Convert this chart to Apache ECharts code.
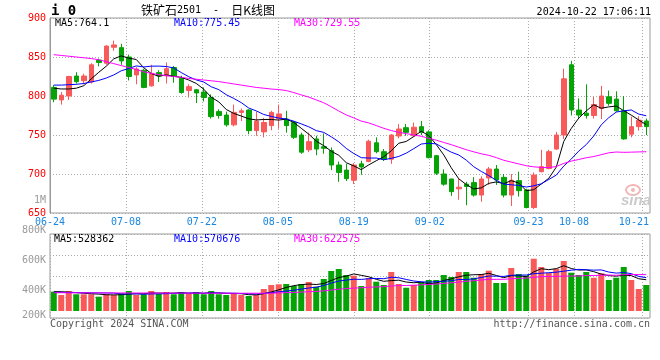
<!DOCTYPE html>
<html><head><meta charset="utf-8">
<script src="https://cdn.jsdelivr.net/npm/echarts@6/dist/echarts.min.js"></script>
<style>html,body{margin:0;padding:0;background:#fff}#c{width:660px;height:360px}</style>
</head><body><div id="c"></div>
<script>
// ---- data ----
const dates = [
 '06-24','06-25','06-26','06-27','06-28',
 '07-01','07-02','07-03','07-04','07-05','07-08','07-09','07-10','07-11','07-12',
 '07-15','07-16','07-17','07-18','07-19','07-22','07-23','07-24','07-25','07-26',
 '07-29','07-30','07-31','08-01','08-02','08-05','08-06','08-07','08-08','08-09',
 '08-12','08-13','08-14','08-15','08-16','08-19','08-20','08-21','08-22','08-23',
 '08-26','08-27','08-28','08-29','08-30','09-02','09-03','09-04','09-05','09-06',
 '09-09','09-10','09-11','09-12','09-13','09-18','09-19','09-20','09-23','09-24',
 '09-25','09-26','09-27','09-30','10-08','10-09','10-10','10-11','10-14','10-15',
 '10-16','10-17','10-18','10-21','10-22'];
const opens = [811,795,800,825.6,819.6,818,846,842,862.5,862,850,827,833,813,830,826,836.5,822.6,807,808,
 805,798,780,775.6,763,779,782,755.6,754,762,771,770.5,766,750,731,745,735,730,711.5,705,
 692,713,716,740,728.6,719,748.7,759.4,749,760.7,754,723.5,700,693.6,681,687,689,673,695,706.4,
 695.7,673,691.5,679.5,657,703,707,732,750,840,782,778,775,784,799,796,781,751,760.7,768];
const closes = [796,801,825,818.3,825.6,840,843,864,865.5,845,825,834.6,811,829,826,835,825,804.5,812,804,
 798,773.5,775,763,779,781,755.6,768,766,779,777,762,747,728,741.5,732,733,711.5,702,694,
 711.5,709,742,728.6,719,750,757.7,753.4,760,753.4,721,701,687,677.4,683,684,673,693.6,706.4,692.3,
 673,692,678.6,657,698.7,709.4,728.6,750,822,782,775.6,775,789,800,790.6,781,745,760.7,769,760.7];
const lows = [792,789,795,816,815,816,838,840,858,840,820,815,810,812,818,816,817,803,798,791,
 793,771,771,760.7,761,768,751,749,747,756,758,753,745,726,728,724,726,705,690,691,
 687,699,715,726.5,716.7,713,745.7,749,748,750,720,698.7,685,672,667,660,671,664.5,686,686,
 670,659,671,656,655,702,706,731,745,775,770.5,771,771,770.5,787.6,780,744,747,755.6,750];
const highs = [814,805,826,830.5,828.5,842,848,865,871,867,853,837,835,840,833,843,838.5,826,815,809,
 811,802,783,780,789,784,783,780,772,781,789,781,768,753,753,749,752,734,716,713,
 714,717,744,747,732,751,764,764,766,768,756,724.4,706,694,694,690,696,697,709,711.5,
 700,700,703,681,702,731,731,754,835,845,797,815,799,813,807,806,800,773.5,774,771];
const volumes = [330000,274000,342000,286000,286000,286000,245000,286000,274000,303000,
 342000,274000,286000,342000,291000,325000,286000,325000,291000,325000,
 286000,342000,286000,274000,303000,274000,257000,274000,376000,445000,
 457000,462000,428000,462000,496000,416000,547000,684000,718000,616000,
 604000,428000,559000,501000,445000,667000,462000,398000,445000,491000,
 530000,530000,616000,581000,667000,667000,569000,633000,689000,479000,
 479000,735000,633000,604000,894000,752000,650000,723000,855000,655000,
 616000,667000,569000,645000,530000,569000,752000,530000,376000,445000];
// moving-average values before enough history exists
const ma5Head = [810,809,809,810];
const ma10Head = [814,814,814.5,815,816,818,820,823,827];
const ma30Head = [853,852,851,850,849,848,846.5,844,841.5,839,836.5,834,831,829,827.5,826,825,824,822.5,821.5,
 820.5,819.5,818.5,817,815.5,814,812.5,811,810];
const volMa5Head = [330000,330000,322000,315000];
const volMa10Head = [318000,318000,316000,315000,313000,312000,310000,308000,306000];
const volMa30Head = [312000,312000,311000,311000,310000,310000,310000,309000,309000,309000,
 308000,308000,308000,307000,307000,307000,306000,306000,306000,306000,
 305000,305000,305000,305000,304000,304000,304000,304000,304000];
const labelDates = ['06-24','07-08','07-22','08-05','08-19','09-02','09-23','10-08','10-21'];
const priceMin = 650, priceMax = 900, priceStep = 50;
const volLabelMin = 200000, volLabelMax = 1000000, volLabelStep = 200000;
const titleParts = [['c','铁矿石'],['m','2501  -  '],['c','日K线图']];
const headerCode = 'i 0';
const headerTime = '2024-10-22 17:06:11';
const priceMaText = ['MA5:764.1','MA10:775.45','MA30:729.55'];
const volMaText = ['MA5:528362','MA10:570676','MA30:622575'];

// ---- chart ----
const MONO = '"DejaVu Sans Mono","Liberation Mono",monospace';
const RED = '#f85a5a', GREEN = '#05a305';
const GRIDC = '#ababab', BORDER = '#9a9a9a';
const MAC = ['#000000','#0000ff','#ff00ff'];

function sma(vals, n, head){
  return vals.map((v,i)=>{
    if(i < n-1) return head[i];
    let s=0; for(let k=i-n+1;k<=i;k++) s+=vals[k];
    return +(s/n).toFixed(2);
  });
}
const isUp = i => closes[i] >= opens[i];
const candleData = dates.map((d,i)=>[opens[i],closes[i],lows[i],highs[i]]);
const volData = volumes.map((v,i)=>({value:v,itemStyle:{color:isUp(i)?RED:GREEN}}));
const labelInterval = (idx,val)=> labelDates.indexOf(val) >= 0;
const lastLabel = labelDates[labelDates.length-1];
const dotted = {color:GRIDC, type:[1,2], width:1};

const chart = echarts.init(document.getElementById('c'), null, {renderer:'canvas'});
const volPx = 17100; // volume per pixel
function txt(x,y,text,font,fill,align){
  return {type:'text',x:x,y:y,style:{text:text,font:font,fill:fill,align:align,verticalAlign:'middle',textAlign:align,textVerticalAlign:'middle'}};
}
const option = {
  animation:false,
  backgroundColor:'#fff',
  grid:[
    {left:50,right:10,top:18,height:195,show:true,borderColor:BORDER,borderWidth:1},
    {left:50,right:10,top:234,height:84,show:true,borderColor:BORDER,borderWidth:1},
    {left:50,right:10,top:200.3,height:120.4,show:false}
  ],
  xAxis:[
    {type:'category',gridIndex:0,data:dates,boundaryGap:true,show:false,position:'top'},
    {type:'category',gridIndex:0,data:dates,boundaryGap:false,position:'bottom',
      axisLine:{show:false},axisTick:{show:false},
      axisLabel:{interval:labelInterval,color:'#1a86e0',fontFamily:MONO,fontSize:10,margin:4,
        hideOverlap:false,
        formatter:v=> v===lastLabel ? '{r|'+v+'}' : v,
        rich:{r:{color:'#1a86e0',fontFamily:MONO,fontSize:10,padding:[0,17,0,0]}}},
      splitLine:{show:true,interval:labelInterval,lineStyle:dotted}},
    {type:'category',gridIndex:1,data:dates,boundaryGap:true,show:false,position:'top'},
    {type:'category',gridIndex:1,data:dates,boundaryGap:false,position:'bottom',
      axisLine:{show:false},axisTick:{show:false},axisLabel:{show:false},
      splitLine:{show:true,interval:labelInterval,lineStyle:dotted}},
    {type:'category',gridIndex:2,data:dates,show:false}
  ],
  yAxis:[
    {type:'value',gridIndex:0,min:priceMin,max:priceMax,interval:priceStep,
      axisLine:{show:true,lineStyle:{color:BORDER}},axisTick:{show:false},
      axisLabel:{color:'#ff0000',fontFamily:MONO,fontSize:10,margin:4},
      splitLine:{show:true,lineStyle:dotted}},
    {type:'value',gridIndex:1,min:-7*volPx,max:77*volPx,show:false,splitLine:{show:false}},
    {type:'value',gridIndex:1,min:0,max:4,interval:1,position:'left',
      axisLine:{show:false},axisTick:{show:false},axisLabel:{show:false},
      splitLine:{show:true,lineStyle:dotted}},
    {type:'value',gridIndex:2,min:volLabelMin,max:volLabelMax,interval:volLabelStep,position:'left',
      axisLine:{show:false},axisTick:{show:false},splitLine:{show:false},
      axisLabel:{color:'#9a9a9a',fontFamily:MONO,fontSize:10,margin:4,verticalAlignMinLabel:'bottom',
        formatter:v=> v>=1e6 ? (v/1e6)+'M' : (v/1000)+'K'}}
  ],
  series:[
    {type:'candlestick',xAxisIndex:0,yAxisIndex:0,data:candleData,barWidth:5,
      itemStyle:{color:RED,color0:GREEN,borderColor:RED,borderColor0:GREEN,borderWidth:1}},
    {type:'line',xAxisIndex:0,yAxisIndex:0,data:sma(closes,5,ma5Head),symbol:'none',lineStyle:{color:MAC[0],width:1},z:5},
    {type:'line',xAxisIndex:0,yAxisIndex:0,data:sma(closes,10,ma10Head),symbol:'none',lineStyle:{color:MAC[1],width:1},z:5},
    {type:'line',xAxisIndex:0,yAxisIndex:0,data:sma(closes,30,ma30Head),symbol:'none',lineStyle:{color:MAC[2],width:1},z:5},
    {type:'bar',xAxisIndex:2,yAxisIndex:1,data:volData,barWidth:6},
    {type:'line',xAxisIndex:2,yAxisIndex:1,data:sma(volumes,5,volMa5Head),symbol:'none',lineStyle:{color:MAC[0],width:1},z:5},
    {type:'line',xAxisIndex:2,yAxisIndex:1,data:sma(volumes,10,volMa10Head),symbol:'none',lineStyle:{color:MAC[1],width:1},z:5},
    {type:'line',xAxisIndex:2,yAxisIndex:1,data:sma(volumes,30,volMa30Head),symbol:'none',lineStyle:{color:MAC[2],width:1},z:5}
  ],
  graphic:[
    txt(51,11,headerCode,'bold 14px '+MONO,'#000','left'),
    {type:'text',x:141,y:10,style:{
      text:titleParts.map(p=>'{'+p[0]+'|'+p[1]+'}').join(''),
      rich:{c:{font:'12px "Noto Sans CJK SC",sans-serif',fill:'#000'},m:{font:'10px '+MONO,fill:'#000'}},
      fill:'#000',align:'left',verticalAlign:'middle',textAlign:'left',textVerticalAlign:'middle'}},
    txt(651,12,headerTime,'10px '+MONO,'#000','right'),
    txt(55,23.5,priceMaText[0],'10px '+MONO,MAC[0],'left'),
    txt(174,23.5,priceMaText[1],'10px '+MONO,MAC[1],'left'),
    txt(294,23.5,priceMaText[2],'10px '+MONO,MAC[2],'left'),
    txt(54,239.5,volMaText[0],'10px '+MONO,MAC[0],'left'),
    txt(174,239.5,volMaText[1],'10px '+MONO,MAC[1],'left'),
    txt(294,239.5,volMaText[2],'10px '+MONO,MAC[2],'left'),
    txt(50,324,'Copyright 2024 SINA.COM','10px '+MONO,'#555','left'),
    txt(650,324,'http://finance.sina.com.cn','10px '+MONO,'#555','right'),
    {type:'ellipse',shape:{cx:633,cy:190,rx:7,ry:5},style:{fill:'none',stroke:'#f2b6b6',lineWidth:2}},
    {type:'circle',shape:{cx:633,cy:190,r:2},style:{fill:'#f2b6b6'}},
    txt(636,201,'sina','italic bold 15px "Liberation Sans",sans-serif','#cacaca','center')
  ]
};
chart.setOption(option);
</script></body></html>
